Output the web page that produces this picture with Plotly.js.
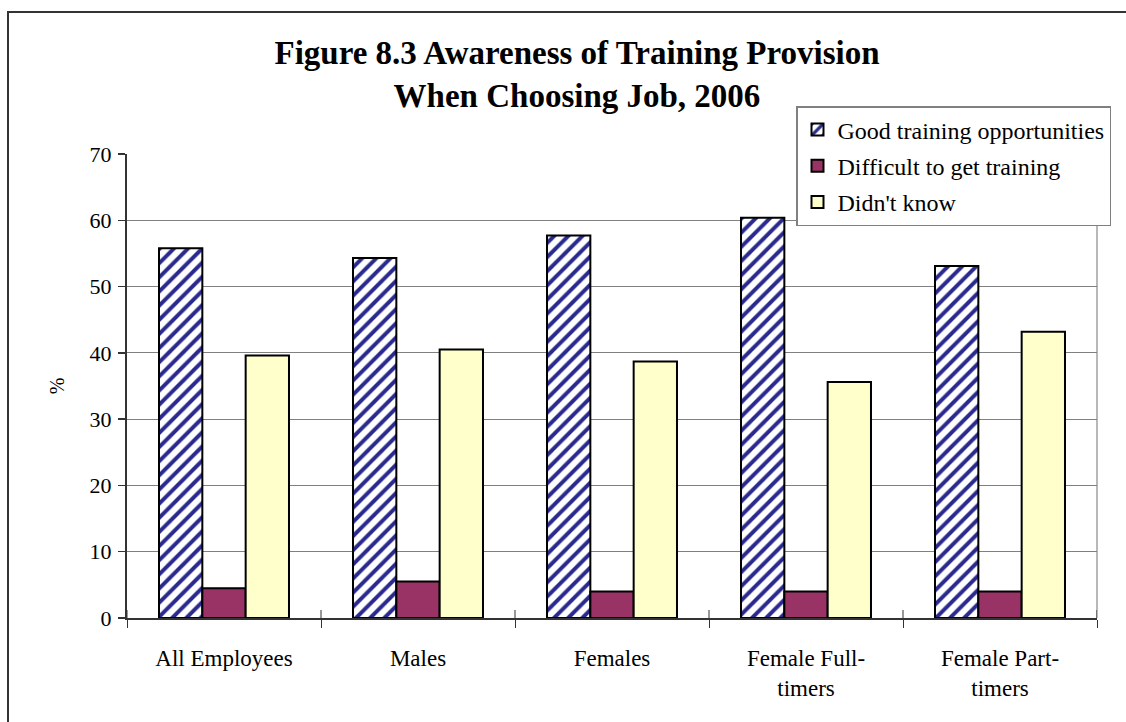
<!DOCTYPE html>
<html>
<head>
<meta charset="utf-8">
<script src="https://cdn.plot.ly/plotly-3.0.1.min.js"></script>
<style>
html,body{margin:0;padding:0;background:#fff;}
#chart{width:1126px;height:722px;}
</style>
</head>
<body>
<div id="chart"></div>
<script>
const categories = ["All Employees", "Males", "Females", "Female Full-<br>timers", "Female Part-<br>timers"];
const seriesNames = ["Good training opportunities", "Difficult to get training", "Didn't know"];
const goodTraining = [55.8, 54.3, 57.7, 60.4, 53.1];
const difficultTraining = [4.5, 5.5, 4.0, 4.0, 4.0];
const didntKnow = [39.6, 40.5, 38.7, 35.6, 43.2];
const yTicks = [0, 10, 20, 30, 40, 50, 60, 70];

const FONT = 'Liberation Serif, Times New Roman, serif';
const W = 1126, H = 722;
const M = {l: 127, r: 29, t: 154, b: 104};
const PW = W - M.l - M.r, PH = H - M.t - M.b;
const px2x = px => (px - M.l) / PW;
const px2y = py => (H - M.b - py) / PH;

const outline = {color: '#000000', width: 2};

const traces = [
  {
    type: 'bar', name: seriesNames[0], x: categories, y: goodTraining,
    legendgroup: 'a',
    marker: {color: '#ffffff', line: outline,
      pattern: {shape: '/', fgcolor: '#2A2A8E', bgcolor: '#ffffff', fgopacity: 1,
                size: 10, solidity: 0.4, fillmode: 'replace'}},
    hoverinfo: 'skip'
  },
  {
    type: 'bar', name: seriesNames[1], x: categories, y: difficultTraining,
    legendgroup: 'b',
    marker: {color: '#993366', line: outline},
    hoverinfo: 'skip'
  },
  {
    type: 'bar', name: seriesNames[2], x: categories, y: didntKnow,
    legendgroup: 'c',
    marker: {color: '#FFFFCC', line: outline},
    hoverinfo: 'skip'
  }
];

// small upward tick marks at category boundaries (ticks cross the axis in the original)
const crossTicks = [];
for (let i = 0; i <= categories.length; i++) {
  crossTicks.push({type: 'line', xref: 'x', yref: 'paper', x0: i - 0.5, x1: i - 0.5,
    y0: 0, y1: 8 / PH, line: {color: '#333333', width: 1}, layer: 'above'});
}

const layout = {
  width: W, height: H,
  margin: M,
  paper_bgcolor: '#ffffff', plot_bgcolor: '#ffffff',
  font: {family: FONT, size: 22, color: '#000000'},
  barmode: 'group', bargap: 0.33, bargroupgap: 0,
  title: {
    text: '<b>Figure 8.3 Awareness of Training Provision<br>When Choosing Job, 2006</b>',
    font: {family: FONT, size: 33, color: '#000000'},
    x: 577 / W, xref: 'container', xanchor: 'center',
    y: 1 - 64 / H, yref: 'container', yanchor: 'top'
  },
  xaxis: {
    type: 'category',
    range: [-0.5, categories.length - 0.5],
    tickson: 'boundaries', ticks: 'outside', ticklen: 8, tickcolor: '#333333', tickwidth: 1,
    showline: true, linecolor: '#333333', linewidth: 2,
    showgrid: false, zeroline: false,
    tickfont: {family: FONT, size: 23, color: '#000000'},
    ticklabelstandoff: 18
  },
  yaxis: {
    range: [0, 70], tickvals: yTicks, ticktext: yTicks.map(String),
    ticks: 'outside', ticklen: 7, tickcolor: '#333333', tickwidth: 1.5,
    showline: true, linecolor: '#333333', linewidth: 2,
    showgrid: true, gridcolor: '#808080', gridwidth: 1,
    zeroline: false,
    tickfont: {family: FONT, size: 22, color: '#000000'},
    ticklabelstandoff: 2,
    title: {text: '%', font: {family: FONT, size: 20, color: '#000000'}, standoff: 20}
  },
  showlegend: true,
  legend: {
    x: px2x(796), y: px2y(106), xanchor: 'left', yanchor: 'top',
    bgcolor: '#ffffff', bordercolor: '#808080', borderwidth: 1.5,
    font: {family: FONT, size: 24, color: '#000000'},
    traceorder: 'grouped', tracegroupgap: 2,
    itemwidth: 30
  },
  shapes: [
    {type: 'line', xref: 'paper', yref: 'y', x0: 1, x1: 1, y0: 0, y1: 70,
     line: {color: '#a0a0a0', width: 1.5}, layer: 'below'},
    {type: 'rect', xref: 'paper', yref: 'paper',
     x0: px2x(8), x1: px2x(1140), y0: px2y(12), y1: px2y(740),
     line: {color: '#333333', width: 2}, fillcolor: 'rgba(0,0,0,0)', layer: 'above'}
  ].concat(crossTicks)
};

Plotly.newPlot('chart', traces, layout, {displayModeBar: false, staticPlot: true});
</script>
</body>
</html>
